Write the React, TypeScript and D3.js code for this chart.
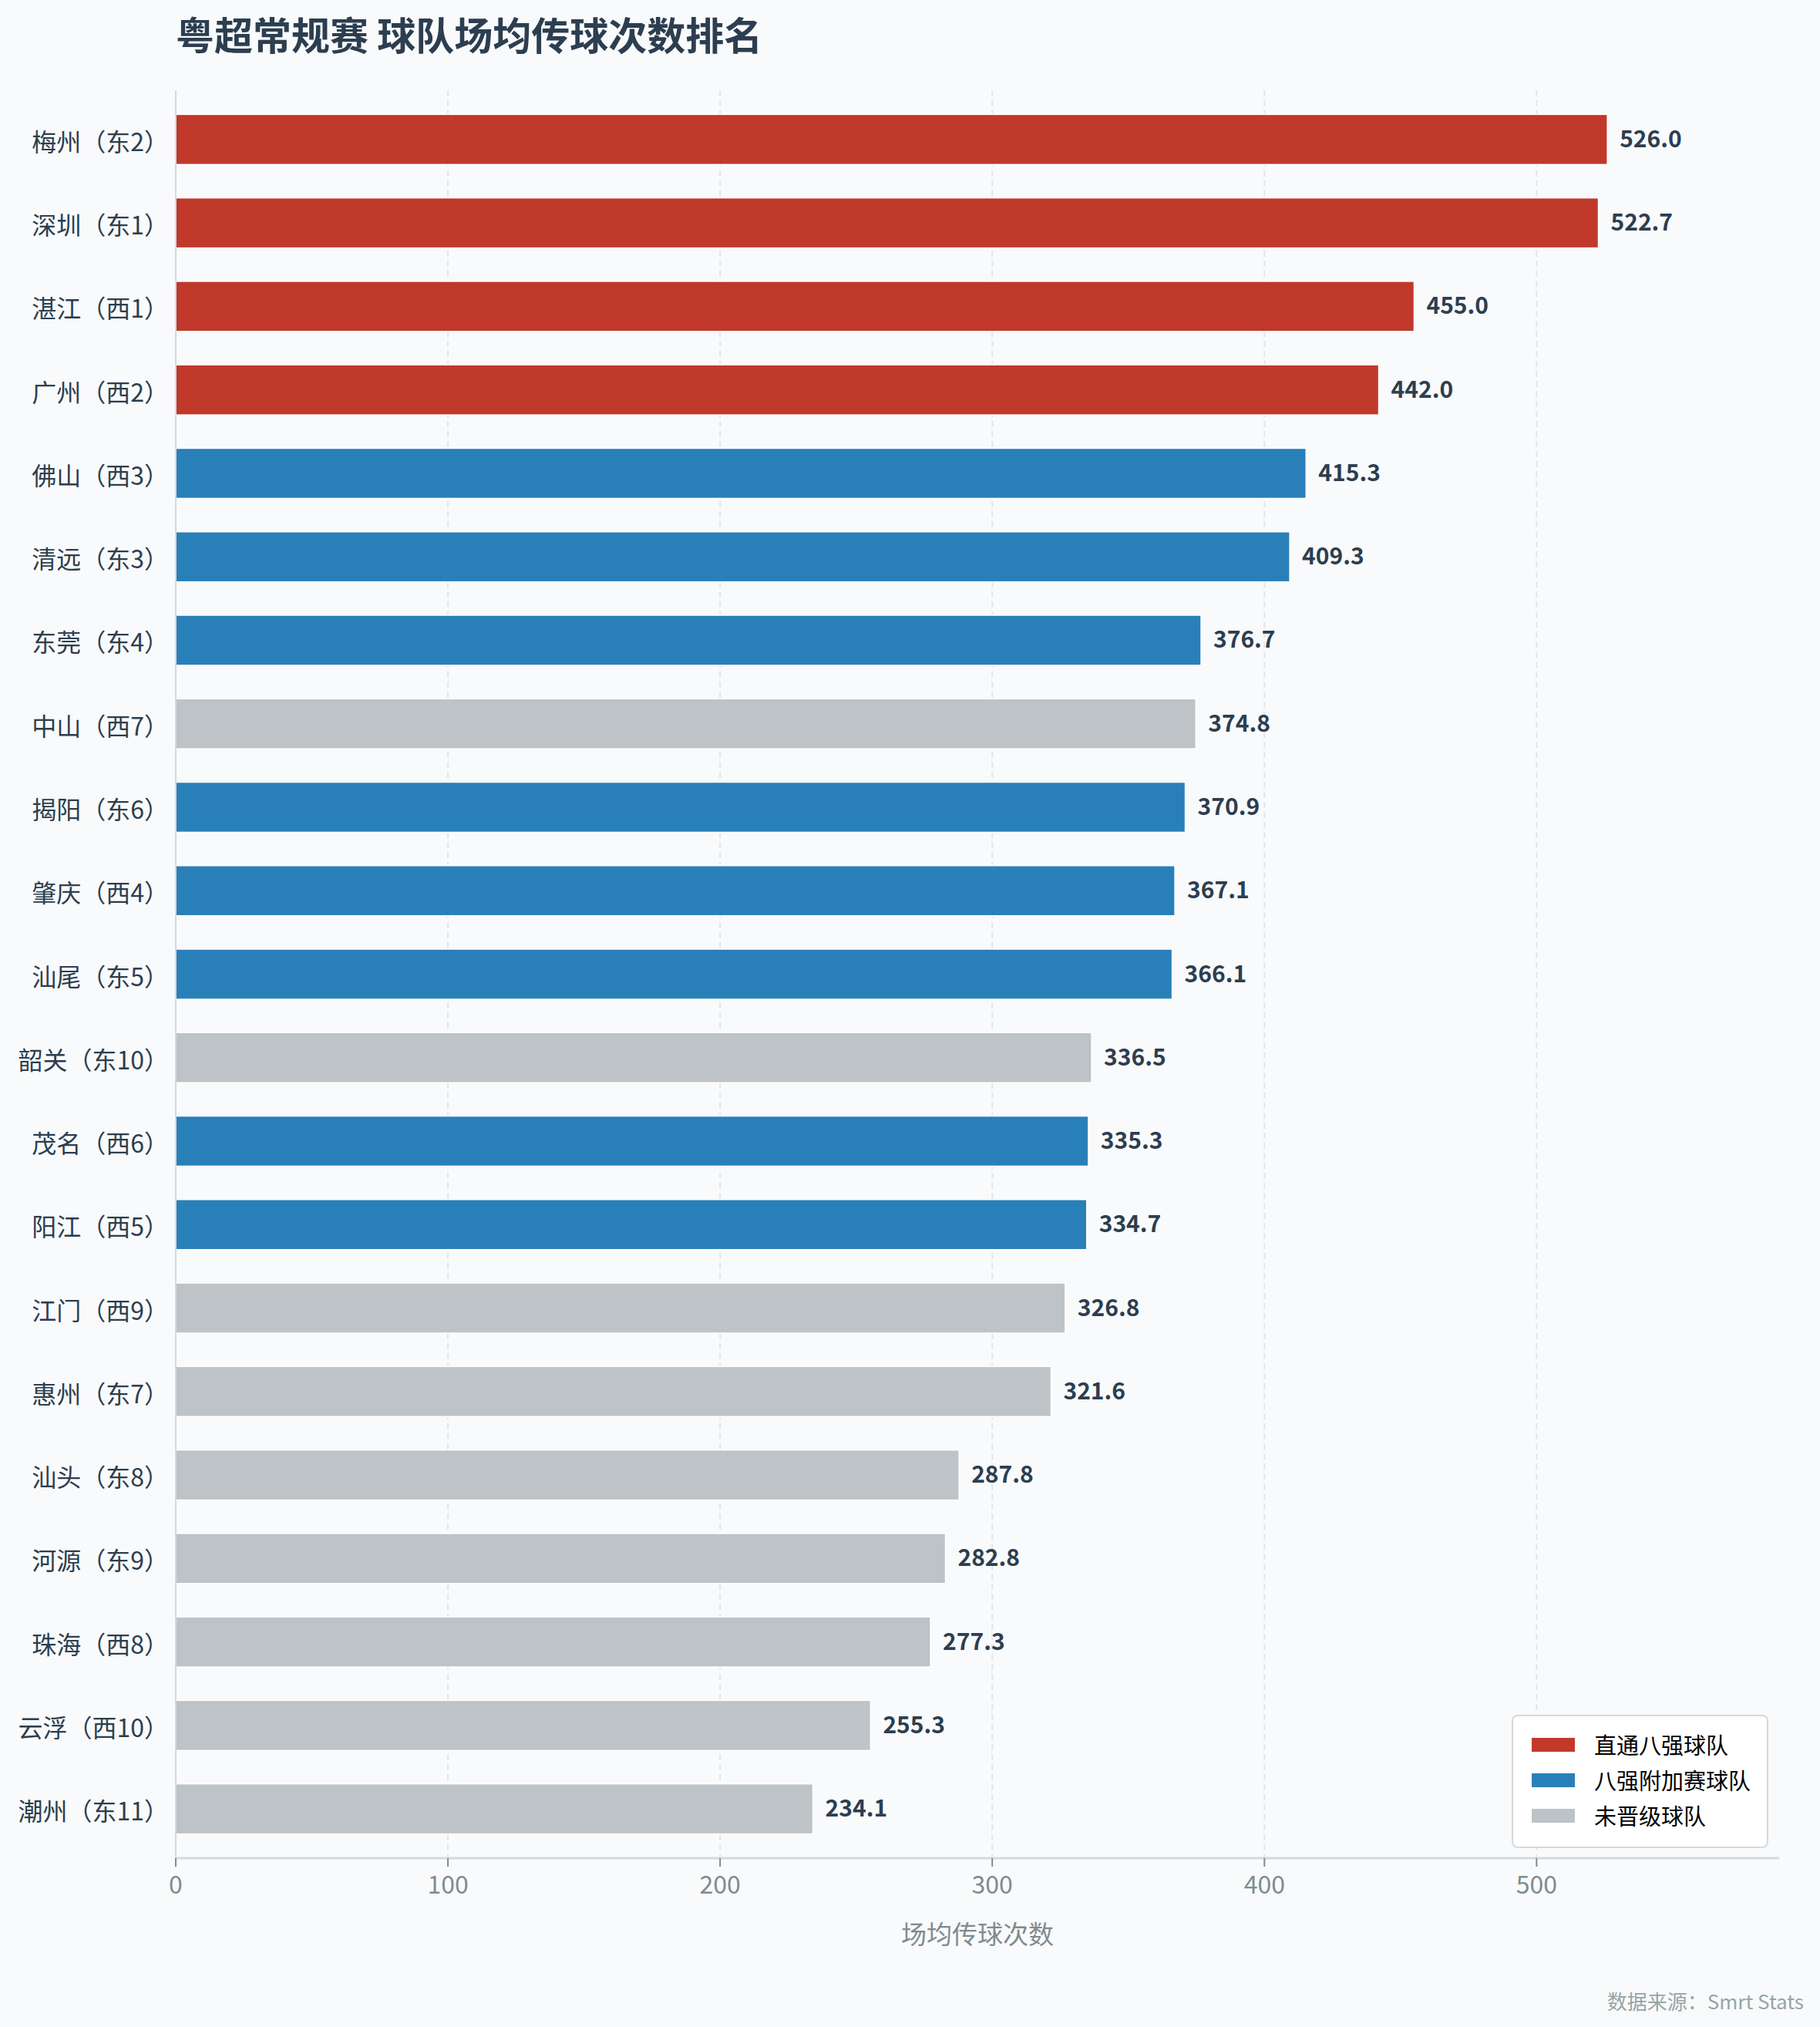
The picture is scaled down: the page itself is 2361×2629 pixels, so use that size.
import React from 'react';
import * as d3 from 'd3';

// 球队（小组排名）与场均传球次数
const teams = [
  '梅州（东2）', '深圳（东1）', '湛江（西1）', '广州（西2）', '佛山（西3）',
  '清远（东3）', '东莞（东4）', '中山（西7）', '揭阳（东6）', '肇庆（西4）',
  '汕尾（东5）', '韶关（东10）', '茂名（西6）', '阳江（西5）', '江门（西9）',
  '惠州（东7）', '汕头（东8）', '河源（东9）', '珠海（西8）', '云浮（西10）',
  '潮州（东11）',
];
const passes = [
  526.0, 522.7, 455.0, 442.0, 415.3, 409.3, 376.7, 374.8, 370.9, 367.1,
  366.1, 336.5, 335.3, 334.7, 326.8, 321.6, 287.8, 282.8, 277.3, 255.3, 234.1,
];
// 0 直通八强, 1 八强附加赛, 2 未晋级
const status = [0, 0, 0, 0, 1, 1, 1, 2, 1, 1, 1, 2, 1, 1, 2, 2, 2, 2, 2, 2, 2];
const groups = ['直通八强球队', '八强附加赛球队', '未晋级球队'];
const xTicks = [0, 100, 200, 300, 400, 500];

const W = 2361;
const H = 2629;
const FONT = '"Noto Sans CJK SC", "Noto Sans", sans-serif';

const App: React.FC = () => {
  const left = 228;
  const right = 2308;
  const top = 117;
  const bottom = 2410;

  const x = d3.scaleLinear().domain([0, d3.max(passes)! * 1.12]).range([left, right]);
  const y = d3
    .scaleBand<string>()
    .domain(teams)
    .range([top, bottom])
    .paddingInner(0.4)
    .paddingOuter(0.29);
  const color = d3
    .scaleOrdinal<number, string>()
    .domain([0, 1, 2])
    .range(['#c0392b', '#2980b9', '#bdc3c7']);

  document.body.style.margin = '0';

  return (
    <svg width={W} height={H} style={{ display: 'block', fontFamily: FONT }}>
      <rect width={W} height={H} fill="#f9fafb" />

      {/* title */}
      <text x={left} y={43} fontSize={50} fontWeight="bold" fill="#2c3e50" dominantBaseline="central">
        粤超常规赛 球队场均传球次数排名
      </text>

      {/* grid */}
      {xTicks.slice(1).map((t) => (
        <line
          key={'g' + t}
          x1={x(t)}
          x2={x(t)}
          y1={top}
          y2={bottom}
          stroke="#e3e6e8"
          strokeWidth={2}
          strokeDasharray="8,5"
        />
      ))}

      {/* bars */}
      {teams.map((t, i) => (
        <g key={t}>
          <rect
            x={x(0)}
            y={y(t)}
            width={x(passes[i]) - x(0)}
            height={y.bandwidth()}
            fill={color(status[i])}
            stroke="#ffffff"
            strokeWidth={1.5}
          />
          <text
            x={x(passes[i]) + 16}
            y={y(t)! + y.bandwidth() / 2 - 3}
            fontSize={30}
            fontWeight="bold"
            fill="#2c3e50"
            dominantBaseline="central"
          >
            {passes[i].toFixed(1)}
          </text>
          <text
            x={left - 9}
            y={y(t)! + y.bandwidth() / 2 + 1}
            fontSize={32}
            fill="#2c3e50"
            textAnchor="end"
            dominantBaseline="central"
          >
            {t}
          </text>
        </g>
      ))}

      {/* spines */}
      <line x1={left} x2={left} y1={top} y2={bottom} stroke="#d5d8dc" strokeWidth={2} />
      <line x1={left} x2={right} y1={bottom} y2={bottom} stroke="#d5d8dc" strokeWidth={3} />

      {/* x ticks */}
      {xTicks.map((t) => (
        <g key={'t' + t}>
          <line x1={x(t)} x2={x(t)} y1={bottom} y2={bottom + 11} stroke="#7f8c8d" strokeWidth={2} />
          <text
            x={x(t)}
            y={2442}
            fontSize={32}
            fill="#7f8c8d"
            textAnchor="middle"
            dominantBaseline="central"
          >
            {t}
          </text>
        </g>
      ))}
      <text
        x={(left + right) / 2}
        y={2507}
        fontSize={33}
        fill="#7f8c8d"
        textAnchor="middle"
        dominantBaseline="central"
      >
        场均传球次数
      </text>

      {/* legend */}
      <rect x={1962} y={2225} width={331} height={171} rx={7} fill="#ffffff" stroke="#d5d8dc" strokeWidth={2} />
      {groups.map((g, i) => (
        <g key={g}>
          <rect x={1987} y={2254 + i * 46} width={56} height={18} fill={color(i)} />
          <text x={2068} y={2262 + i * 46} fontSize={29} fill="#000000" dominantBaseline="central">
            {g}
          </text>
        </g>
      ))}

      {/* source */}
      <text x={2340} y={2594} fontSize={26} fill="#95a5a6" textAnchor="end" dominantBaseline="central">
        数据来源：Smrt Stats
      </text>
    </svg>
  );
};

export default App;
